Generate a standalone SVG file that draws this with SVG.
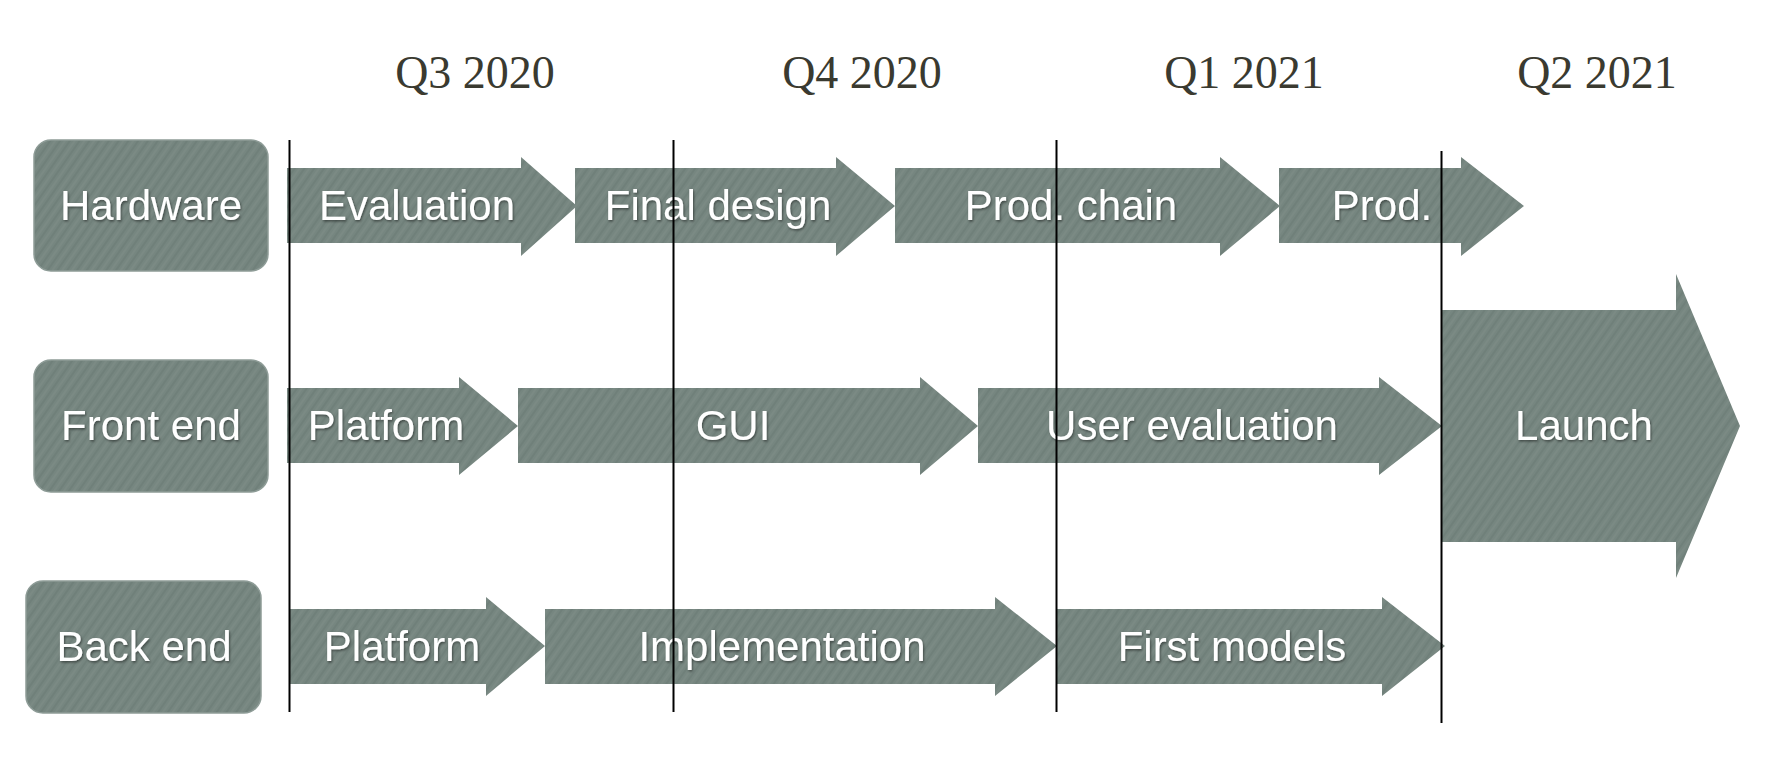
<svg xmlns="http://www.w3.org/2000/svg" width="1766" height="782" viewBox="0 0 1766 782">
  <defs>
    <pattern id="tex" width="8" height="8" patternUnits="userSpaceOnUse" patternTransform="rotate(-55)">
      <rect width="8" height="8" fill="#768680"/>
      <line x1="0" y1="2" x2="8" y2="2" stroke="#6c7c76" stroke-width="1.2"/>
      <line x1="0" y1="6" x2="8" y2="6" stroke="#7f8f89" stroke-width="1"/>
    </pattern>
    <filter id="ts" x="-10%" y="-20%" width="120%" height="140%">
      <feDropShadow dx="1" dy="1.5" stdDeviation="1" flood-color="#000" flood-opacity="0.45"/>
    </filter>
  </defs>
  <style>
    .shape { fill: url(#tex); }
    .lane { fill: url(#tex); stroke: #8e9c97; stroke-width: 1.5; }
    .lbl { font-family: "Liberation Sans", Arial, sans-serif; font-size: 42px; fill: #ffffff; text-anchor: middle; filter: url(#ts); }
    .hdr { font-family: "Liberation Serif", "Times New Roman", serif; font-size: 46px; fill: #3a3a30; text-anchor: middle; }
    .grid { stroke: #000000; stroke-width: 2; }
  </style>
  <rect width="1766" height="782" fill="#ffffff"/>

  <g id="headers">
    <text class="hdr" x="475" y="88">Q3 2020</text>
    <text class="hdr" x="862" y="88">Q4 2020</text>
    <text class="hdr" x="1244" y="88">Q1 2021</text>
    <text class="hdr" x="1597" y="88">Q2 2021</text>
  </g>

  <g id="lane-hardware">
    <rect class="lane" x="34" y="140" width="234" height="131" rx="17"/>
    <text class="lbl" x="151" y="220">Hardware</text>
  </g>
  <g id="lane-frontend">
    <rect class="lane" x="34" y="360" width="234" height="132" rx="17"/>
    <text class="lbl" x="151" y="440">Front end</text>
  </g>
  <g id="lane-backend">
    <rect class="lane" x="26" y="581" width="235" height="132" rx="17"/>
    <text class="lbl" x="144" y="661">Back end</text>
  </g>

  <!-- Row 1 -->
  <g id="hw-evaluation">
    <polygon class="shape" points="287,168 521,168 521,157 577,206 521,256 521,243 287,243"/>
    <text class="lbl" x="417" y="220">Evaluation</text>
  </g>
  <g id="hw-final-design">
    <polygon class="shape" points="575,168 836,168 836,157 895,206 836,256 836,243 575,243"/>
    <text class="lbl" x="718" y="220">Final design</text>
  </g>
  <g id="hw-prod-chain">
    <polygon class="shape" points="895,168 1220,168 1220,157 1280,206 1220,256 1220,243 895,243"/>
    <text class="lbl" x="1071" y="220">Prod. chain</text>
  </g>
  <g id="hw-prod">
    <polygon class="shape" points="1279,168 1461,168 1461,157 1524,206 1461,256 1461,243 1279,243"/>
    <text class="lbl" x="1382" y="220">Prod.</text>
  </g>

  <!-- Row 2 -->
  <g id="fe-platform">
    <polygon class="shape" points="287,388 459,388 459,377 518,426 459,475 459,463 287,463"/>
    <text class="lbl" x="386" y="440">Platform</text>
  </g>
  <g id="fe-gui">
    <polygon class="shape" points="518,388 920,388 920,377 978,426 920,475 920,463 518,463"/>
    <text class="lbl" x="733" y="440">GUI</text>
  </g>
  <g id="fe-user-evaluation">
    <polygon class="shape" points="978,388 1379,388 1379,377 1442,426 1379,475 1379,463 978,463"/>
    <text class="lbl" x="1192" y="440">User evaluation</text>
  </g>
  <g id="launch">
    <polygon class="shape" points="1442,310 1676,310 1676,274 1740,426 1676,578 1676,542 1442,542"/>
    <text class="lbl" x="1584" y="440">Launch</text>
  </g>

  <!-- Row 3 -->
  <g id="be-platform">
    <polygon class="shape" points="289,609 486,609 486,597 545,646 486,696 486,684 289,684"/>
    <text class="lbl" x="402" y="661">Platform</text>
  </g>
  <g id="be-implementation">
    <polygon class="shape" points="545,609 995,609 995,597 1057,646 995,696 995,684 545,684"/>
    <text class="lbl" x="782" y="661">Implementation</text>
  </g>
  <g id="be-first-models">
    <polygon class="shape" points="1057,609 1382,609 1382,597 1445,646 1382,696 1382,684 1057,684"/>
    <text class="lbl" x="1232" y="661">First models</text>
  </g>

  <g id="connectors">
    <line class="grid" x1="289.5" y1="140" x2="289.5" y2="712"/>
    <line class="grid" x1="673.5" y1="140" x2="673.5" y2="712"/>
    <line class="grid" x1="1056.5" y1="140" x2="1056.5" y2="712"/>
    <line class="grid" x1="1441.5" y1="151" x2="1441.5" y2="723"/>
  </g>
</svg>
